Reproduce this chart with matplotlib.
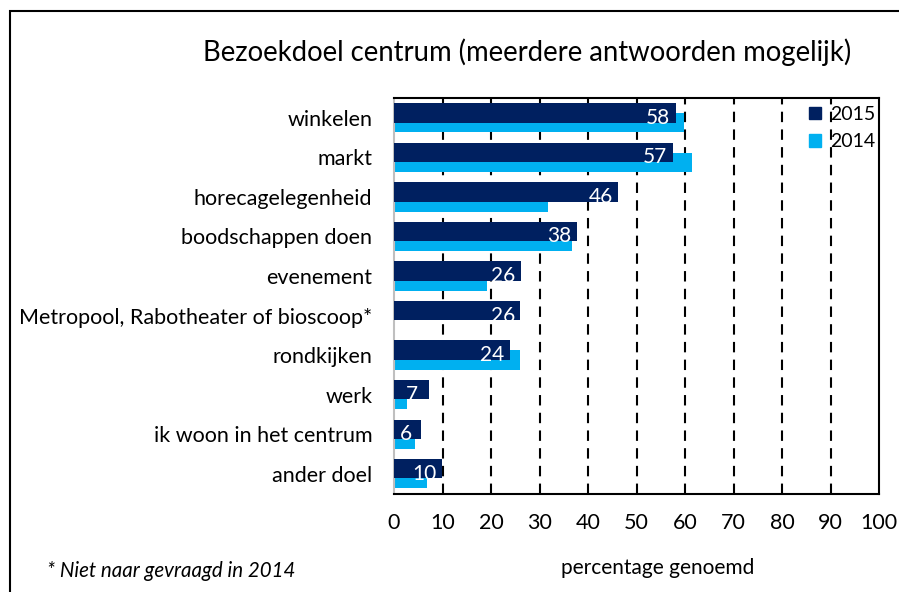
import numpy as np
import matplotlib.pyplot as plt
from matplotlib.patches import Rectangle, Patch

categories = ["winkelen", "markt", "horecagelegenheid", "boodschappen doen",
              "evenement", "Metropool, Rabotheater of bioscoop*", "rondkijken",
              "werk", "ik woon in het centrum", "ander doel"]
values_2015 = [58.1, 57.5, 46.2, 37.7, 26.2, 26.0, 23.9, 7.2, 5.6, 9.8]
labels_2015 = ["58", "57", "46", "38", "26", "26", "24", "7", "6", "10"]
values_2014 = [59.7, 61.4, 31.8, 36.6, 19.2, np.nan, 26.0, 2.7, 4.4, 6.8]
x_ticks = [0, 10, 20, 30, 40, 50, 60, 70, 80, 90, 100]

DARK = "#002060"
LIGHT = "#00B0F0"

plt.rcParams['font.family'] = ['Lato', 'DejaVu Sans']

fig = plt.figure(figsize=(8.99, 5.92), dpi=100)
ax = fig.add_axes([394 / 899, 1 - 493.5 / 592, 485 / 899, 395.5 / 592])

y = np.arange(len(categories))
h = 0.49
# 2014 drawn first, 2015 sits on top, shifted up
ax.barh(y + 0.125, values_2014, height=h, color=LIGHT, label="2014", zorder=2)
ax.barh(y - 0.125, values_2015, height=h, color=DARK, label="2015", zorder=3)

for yi, v, lab in zip(y, values_2015, labels_2015):
    ax.text(max(v - 3.6, 2.4), yi, lab, color="white", fontsize=15,
            ha="center", va="center", zorder=4)

ax.set_xlim(0, 100)
ax.set_ylim(len(categories) - 0.5, -0.5)
ax.set_xticks(x_ticks)
ax.set_yticks(y)
ax.set_yticklabels(categories, fontsize=15.5)
ax.tick_params(axis="both", length=0, labelsize=15.5)
ax.tick_params(axis="y", pad=15.5)
ax.tick_params(axis="x", pad=14)

for xv in x_ticks[1:-1]:
    ax.axvline(xv, color="black", lw=1.5, ls=(0, (5, 3.5)), zorder=1)

for side in ["top", "right", "bottom"]:
    ax.spines[side].set_color("black")
    ax.spines[side].set_linewidth(1.5)
ax.spines["left"].set_color("#BFBFBF")
ax.spines["left"].set_linewidth(1.5)

handles = [Patch(color=DARK, label="2015"), Patch(color=LIGHT, label="2014")]
ax.legend(handles=handles, loc="upper right", bbox_to_anchor=(1.02, 1.015),
          frameon=False, fontsize=14, handlelength=0.6, handleheight=0.6,
          handletextpad=0.45, labelspacing=0.55, borderaxespad=0.3)

fig.text(527 / 899, 1 - 52 / 592, "Bezoekdoel centrum (meerdere antwoorden mogelijk)",
         fontsize=19.8, ha="center", va="center")
fig.text(658 / 899, 1 - 568 / 592, "percentage genoemd", fontsize=15,
         ha="center", va="center")
fig.text(47 / 899, 1 - 571 / 592, "* Niet naar gevraagd in 2014", fontsize=14.8,
         style="italic", ha="left", va="center")

# outer chart border (only left and top edges are within the picture)
fig.patches.append(Rectangle((10 / 899, -0.1), 1.2, 1 - 11 / 592 + 0.1,
                             transform=fig.transFigure, fill=False,
                             edgecolor="black", lw=1.5))

fig.savefig("out.png", dpi=100)
